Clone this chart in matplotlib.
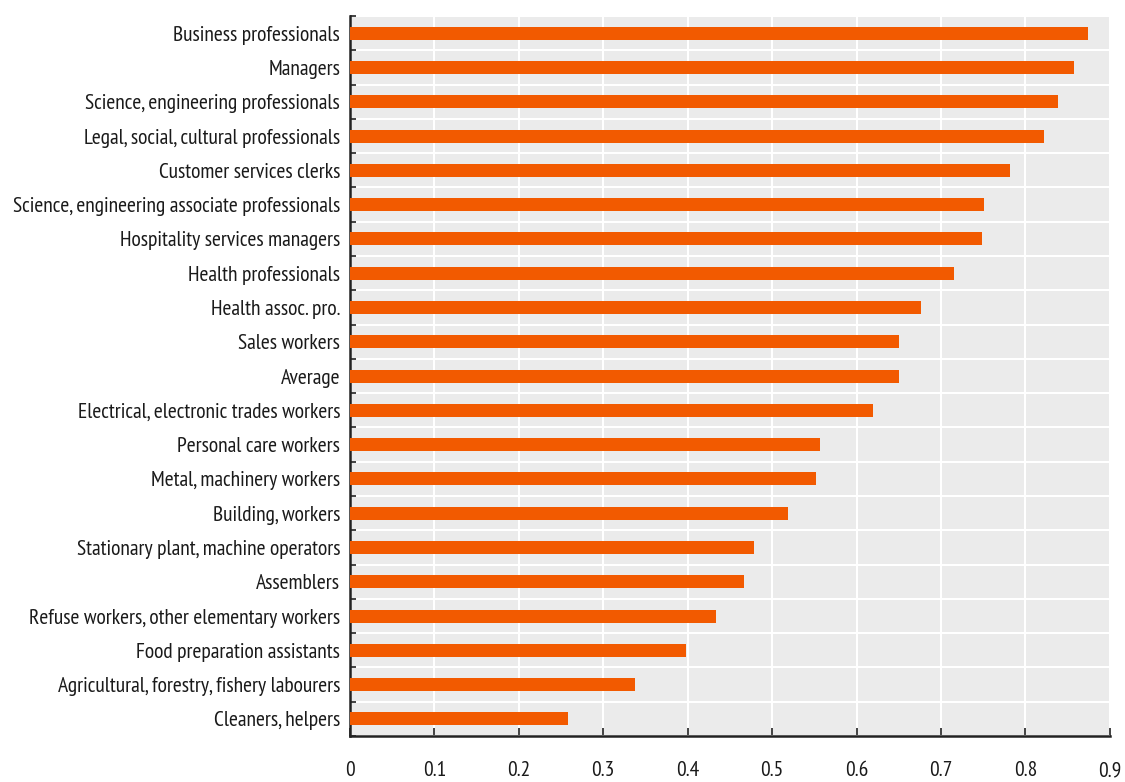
import matplotlib
matplotlib.use('Agg')
import matplotlib.pyplot as plt
import numpy as np

occupations = ['Business professionals', 'Managers', 'Science, engineering professionals',
               'Legal, social, cultural professionals', 'Customer services clerks',
               'Science, engineering associate professionals', 'Hospitality services managers',
               'Health professionals', 'Health assoc. pro.', 'Sales workers', 'Average',
               'Electrical, electronic trades workers', 'Personal care workers',
               'Metal, machinery workers', 'Building, workers',
               'Stationary plant, machine operators', 'Assemblers',
               'Refuse workers, other elementary workers', 'Food preparation assistants',
               'Agricultural, forestry, fishery labourers', 'Cleaners, helpers']
scores = [0.874, 0.857, 0.838, 0.822, 0.782, 0.751, 0.748, 0.715, 0.676, 0.650, 0.650,
          0.619, 0.557, 0.552, 0.519, 0.478, 0.467, 0.433, 0.398, 0.338, 0.258]
xticks = [0, 0.1, 0.2, 0.3, 0.4, 0.5, 0.6, 0.7, 0.8, 0.9]
xtick_labels = ['0', '0.1', '0.2', '0.3', '0.4', '0.5', '0.6', '0.7', '0.8', '0.9']

plt.rcParams['font.family'] = ['PT Sans Narrow', 'DejaVu Sans']
fsize = 15.5

fig = plt.figure(figsize=(11.25, 7.82), dpi=100)
ax = fig.add_axes([0.311, 0.0588, 0.6756, 0.9207])
ax.set_facecolor('#EBEBEB')

y = np.arange(len(occupations))
ax.barh(y, scores, height=0.38, color='#F25A00', zorder=3)
ax.set_ylim(len(occupations) - 0.5, -0.5)
ax.set_xlim(0, 0.9)

ax.set_yticks(y)
ax.set_yticklabels(occupations, fontsize=fsize, color='#1a1a1a')
ax.set_yticks(np.arange(-0.5, len(occupations), 1), minor=True)
ax.tick_params(axis='y', which='major', length=0, pad=7)
ax.tick_params(axis='y', which='minor', length=4, width=1.2, direction='in', color='#222222')

ax.set_xticks(xticks)
ax.set_xticklabels(xtick_labels, fontsize=fsize, color='#1a1a1a')
ax.tick_params(axis='x', which='major', length=6, width=1.2, direction='in', pad=18, color='#222222')

ax.grid(axis='x', which='major', color='white', linewidth=1.5, zorder=1)
ax.grid(axis='y', which='minor', color='white', linewidth=1.5, zorder=1)
ax.set_axisbelow(True)

for s in ['top', 'right']:
    ax.spines[s].set_visible(False)
for s in ['left', 'bottom']:
    ax.spines[s].set_color('#222222')
    ax.spines[s].set_linewidth(1.8)

fig.savefig('out.png', dpi=100)
